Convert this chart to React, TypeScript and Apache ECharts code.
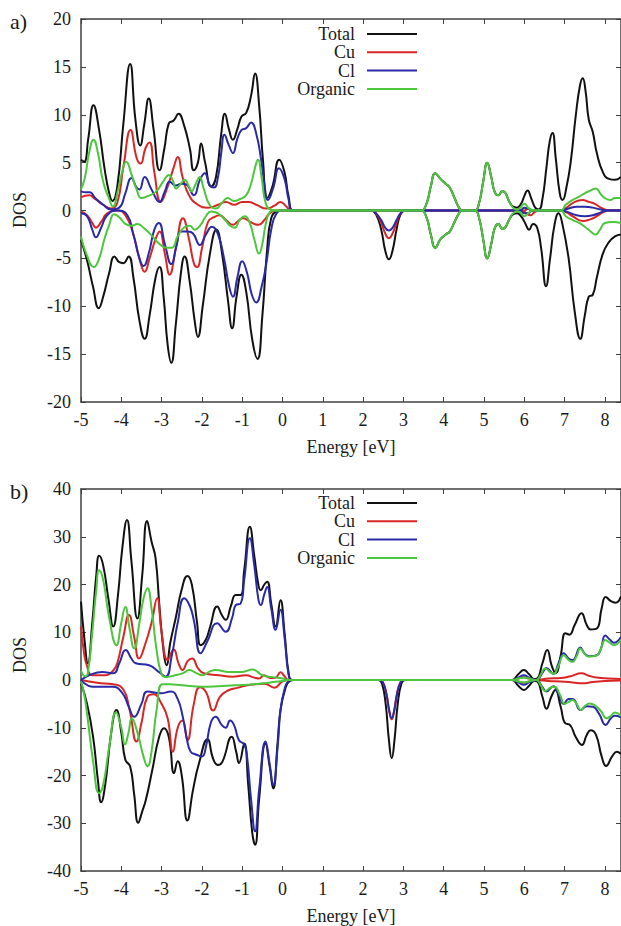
import React, { useEffect, useRef } from "react";
import * as echarts from "echarts";

// ---------- Panel a) ----------
const aTotalUp = [[-5,5.3],[-4.92,5.1],[-4.82,7.5],[-4.69,11.0],[-4.55,8.4],[-4.42,4.5],[-4.3,1.8],[-4.22,1.0],[-4.1,2.5],[-3.95,9],[-3.78,15.3],[-3.65,9.5],[-3.53,6.8],[-3.43,9],[-3.32,11.7],[-3.2,8.5],[-3.05,4.2],[-2.93,6.5],[-2.82,9.1],[-2.7,9.4],[-2.58,10.1],[-2.45,9],[-2.3,6.5],[-2.2,4.2],[-2.1,5],[-2.02,7.0],[-1.92,5],[-1.77,2.5],[-1.65,3.5],[-1.52,8],[-1.43,10.1],[-1.33,8.5],[-1.23,7.4],[-1.12,8.5],[-1.02,9.8],[-0.9,10.2],[-0.78,12],[-0.68,14.3],[-0.58,11],[-0.48,5],[-0.38,1.3],[-0.25,2.5],[-0.08,5.3],[0.05,4],[0.15,1.5],[0.28,0],[3.35,0],[3.45,0],[3.58,0.8],[3.68,2.5],[3.79,3.9],[3.92,3.3],[4.05,2.8],[4.15,2.4],[4.28,1.2],[4.38,0.3],[4.45,0],[4.7,0],[4.78,0],[4.88,0.8],[4.98,3],[5.08,5.0],[5.18,3.5],[5.27,1.9],[5.36,1.6],[5.45,2.0],[5.52,1.9],[5.62,1.0],[5.72,0.4],[5.82,0.3],[5.92,0.7],[6.0,1.5],[6.08,2.1],[6.17,1.3],[6.27,0.3],[6.36,0.1],[6.45,1.2],[6.55,4.5],[6.63,7.2],[6.7,8.1],[6.78,5.5],[6.88,1.8],[6.95,1.1],[7.05,2.5],[7.15,5],[7.28,10],[7.38,13],[7.45,13.8],[7.52,12.5],[7.6,9.5],[7.7,8.2],[7.8,6],[7.95,4],[8.1,3.3],[8.25,3.2],[8.4,3.5]];
const aTotalDn = [[-5,-3.1],[-4.85,-5.2],[-4.7,-8],[-4.56,-10.2],[-4.45,-9],[-4.3,-6.5],[-4.17,-4.8],[-4.05,-5.4],[-3.95,-5.5],[-3.82,-4.8],[-3.7,-7],[-3.55,-11.5],[-3.42,-13.4],[-3.3,-11],[-3.15,-7],[-3.05,-5.9],[-2.95,-9],[-2.85,-14],[-2.76,-15.9],[-2.65,-12],[-2.52,-6.5],[-2.43,-4.8],[-2.3,-7.5],[-2.18,-11.5],[-2.1,-13.2],[-1.98,-10],[-1.8,-4.5],[-1.64,-2.0],[-1.5,-4.5],[-1.35,-9.5],[-1.25,-12.3],[-1.14,-9],[-1.02,-6.7],[-0.9,-8.5],[-0.75,-13.5],[-0.62,-15.5],[-0.5,-11],[-0.38,-4],[-0.28,-0.8],[-0.15,-0.1],[0.0,0],[2.1,0],[2.2,0],[2.32,-0.4],[2.45,-2.0],[2.55,-4.2],[2.64,-5.1],[2.73,-4.2],[2.83,-2.0],[2.93,-0.4],[3.05,0],[3.35,0],[3.45,0],[3.58,-0.8],[3.68,-2.5],[3.79,-3.9],[3.92,-3.0],[4.05,-2.5],[4.15,-2.2],[4.28,-1.1],[4.38,-0.3],[4.45,0],[4.7,0],[4.78,0],[4.88,-0.8],[4.98,-3],[5.08,-5.0],[5.18,-3.5],[5.27,-1.8],[5.36,-1.4],[5.45,-1.9],[5.52,-1.8],[5.62,-1.0],[5.72,-0.4],[5.82,-0.3],[5.92,-0.6],[6.02,-1.3],[6.12,-2.0],[6.22,-1.4],[6.32,-1.8],[6.42,-4],[6.54,-7.9],[6.64,-5],[6.75,-1.5],[6.85,-0.3],[6.95,-1.5],[7.1,-5],[7.25,-10.5],[7.39,-13.4],[7.5,-11],[7.6,-9],[7.7,-8.8],[7.8,-7],[7.95,-4.5],[8.1,-3.3],[8.25,-2.7],[8.4,-2.5]];
const aCuUp = [[-5,1.4],[-4.8,1.6],[-4.65,1.2],[-4.45,0.6],[-4.25,0.2],[-4.1,0.8],[-3.95,4.5],[-3.77,8.4],[-3.62,5.5],[-3.52,4.9],[-3.4,6.5],[-3.3,7.1],[-3.18,4],[-3.02,0.9],[-2.85,2.5],[-2.7,4.5],[-2.6,5.6],[-2.48,3.5],[-2.32,1.6],[-2.1,0.6],[-1.85,0.3],[-1.6,0.6],[-1.4,0.9],[-1.2,0.6],[-1.0,0.9],[-0.85,0.9],[-0.65,0.6],[-0.4,0.2],[-0.2,0.5],[-0.05,0.9],[0.1,0.4],[0.22,0],[5.9,0],[6.0,0],[6.1,0.2],[6.2,0],[6.9,0],[7.05,0.3],[7.25,0.9],[7.45,1.1],[7.6,0.9],[7.75,0.7],[7.9,0.3],[8.05,0.05],[8.4,0]];
const aCuDn = [[-5,-0.1],[-4.85,-0.5],[-4.72,-1.3],[-4.63,-1.8],[-4.5,-1.2],[-4.35,-0.3],[-4.1,0],[-3.9,-0.5],[-3.7,-2.5],[-3.55,-5],[-3.42,-6.4],[-3.3,-5],[-3.15,-3],[-3.05,-2.2],[-2.92,-4.5],[-2.8,-6.7],[-2.65,-4],[-2.47,-0.8],[-2.32,-3],[-2.2,-5.5],[-2.12,-5.9],[-2.0,-4],[-1.85,-1.2],[-1.7,-0.7],[-1.56,-0.5],[-1.4,-1.0],[-1.23,-1.5],[-1.1,-1.1],[-0.98,-0.8],[-0.8,-1.2],[-0.6,-1.5],[-0.45,-1.0],[-0.32,-0.3],[-0.15,0],[2.1,0],[2.2,0],[2.32,-0.3],[2.45,-1.3],[2.55,-2.4],[2.64,-2.9],[2.73,-2.4],[2.83,-1.3],[2.93,-0.3],[3.05,0],[5.85,0],[5.95,0],[6.05,-0.3],[6.15,-0.5],[6.25,-0.2],[6.35,0],[6.9,0],[7.05,-0.2],[7.2,-0.6],[7.45,-1.1],[7.65,-0.9],[7.8,-0.6],[7.95,-0.2],[8.1,0],[8.4,0]];
const aClUp = [[-5,2.0],[-4.88,1.9],[-4.78,1.9],[-4.65,1.3],[-4.45,0.6],[-4.25,0.1],[-4.05,0.3],[-3.9,1.8],[-3.75,3.4],[-3.62,2.4],[-3.55,2.2],[-3.42,3.5],[-3.25,2.2],[-3.05,0.9],[-2.92,2],[-2.8,3.0],[-2.65,2.6],[-2.5,2.8],[-2.38,2.7],[-2.2,1.6],[-2.05,3.2],[-1.93,3.9],[-1.8,2.6],[-1.7,2.4],[-1.6,3.5],[-1.52,6],[-1.44,7.9],[-1.33,6.8],[-1.23,6.0],[-1.12,7.5],[-1.02,8.4],[-0.9,8.6],[-0.78,9.2],[-0.65,8],[-0.53,5.3],[-0.45,2.8],[-0.36,1.1],[-0.22,2.5],[-0.09,4.4],[0.05,3.3],[0.15,1.2],[0.25,0],[5.8,0],[5.9,0],[6.0,0.3],[6.1,0.2],[6.2,0],[6.9,0],[7.1,0.2],[7.3,0.4],[7.5,0.4],[7.7,0.3],[7.9,0.1],[8.05,0],[8.4,0]];
const aClDn = [[-5,-0.3],[-4.85,-0.6],[-4.72,-2],[-4.63,-2.8],[-4.5,-1.8],[-4.35,-0.5],[-4.1,0],[-3.85,-0.5],[-3.7,-2.5],[-3.55,-5],[-3.45,-5.8],[-3.32,-4.5],[-3.18,-2],[-3.07,-1.3],[-2.92,-3.5],[-2.76,-5.6],[-2.62,-3.5],[-2.52,-2.2],[-2.35,-2.2],[-2.22,-2.4],[-2.05,-3.6],[-1.9,-2.5],[-1.75,-1.7],[-1.6,-2.5],[-1.45,-5],[-1.32,-8],[-1.23,-9.0],[-1.12,-7],[-1.0,-5.3],[-0.88,-6.5],[-0.76,-8.8],[-0.65,-9.6],[-0.52,-8],[-0.4,-5.5],[-0.28,-2],[-0.16,-0.4],[0.0,0],[2.1,0],[2.2,0],[2.32,-0.3],[2.45,-1.0],[2.55,-1.8],[2.64,-2.1],[2.73,-1.8],[2.83,-1.0],[2.93,-0.3],[3.05,0],[5.8,0],[5.9,0],[6.0,-0.3],[6.1,-0.3],[6.2,0],[6.9,0],[7.1,-0.2],[7.3,-0.5],[7.5,-0.6],[7.7,-0.5],[7.9,-0.2],[8.05,0],[8.4,0]];
const aOrgUp = [[-5,2.2],[-4.9,3.5],[-4.8,6],[-4.69,7.4],[-4.58,6],[-4.45,3],[-4.3,1.2],[-4.21,0.4],[-4.08,2.2],[-3.95,4.5],[-3.88,5.1],[-3.75,3.8],[-3.62,2.2],[-3.5,1.3],[-3.35,1.5],[-3.13,2.0],[-2.95,3.1],[-2.82,3.7],[-2.72,3.1],[-2.64,2.3],[-2.52,2.8],[-2.43,3.2],[-2.32,2.5],[-2.26,2.0],[-2.15,2.8],[-2.06,3.5],[-1.95,2.2],[-1.81,0.6],[-1.65,0.2],[-1.5,0.8],[-1.36,1.3],[-1.2,1.0],[-1.05,1.2],[-0.9,1.6],[-0.78,2.8],[-0.68,4.5],[-0.61,5.3],[-0.52,3.5],[-0.42,0.8],[-0.3,0.1],[-0.15,0],[3.35,0],[3.45,0],[3.58,0.8],[3.68,2.5],[3.79,3.9],[3.92,3.3],[4.05,2.8],[4.15,2.4],[4.28,1.2],[4.38,0.3],[4.45,0],[4.7,0],[4.78,0],[4.88,0.8],[4.98,3],[5.08,5.0],[5.18,3.5],[5.27,1.9],[5.36,1.6],[5.45,2.0],[5.52,1.9],[5.62,1.0],[5.72,0.3],[5.82,0.1],[5.9,0.3],[6.0,0.7],[6.12,0.2],[6.3,0],[6.9,0],[7.03,0.6],[7.2,1.1],[7.36,1.45],[7.5,1.8],[7.65,2.1],[7.77,2.3],[7.9,1.7],[8.0,1.3],[8.14,1.1],[8.25,1.3],[8.4,1.3]];
const aOrgDn = [[-5,-2.7],[-4.87,-4.5],[-4.68,-5.9],[-4.55,-5],[-4.42,-3],[-4.3,-1.5],[-4.18,-0.4],[-4.05,-0.7],[-3.9,-1.4],[-3.75,-1.6],[-3.6,-1.4],[-3.45,-1.8],[-3.25,-2.6],[-3.05,-3.5],[-2.88,-3.9],[-2.75,-3.9],[-2.6,-2.7],[-2.45,-1.8],[-2.3,-1.6],[-2.18,-2.0],[-2.05,-1.6],[-1.9,-0.6],[-1.77,-0.1],[-1.6,-0.3],[-1.42,-1.0],[-1.3,-1.6],[-1.19,-1.8],[-1.05,-0.9],[-0.94,-0.6],[-0.82,-1.2],[-0.7,-3],[-0.58,-4.5],[-0.5,-3.5],[-0.42,-1.5],[-0.32,-0.2],[-0.2,0],[3.35,0],[3.45,0],[3.58,-0.8],[3.68,-2.5],[3.79,-3.9],[3.92,-3.0],[4.05,-2.5],[4.15,-2.2],[4.28,-1.1],[4.38,-0.3],[4.45,0],[4.7,0],[4.78,0],[4.88,-0.8],[4.98,-3],[5.08,-5.0],[5.18,-3.5],[5.27,-1.8],[5.36,-1.4],[5.45,-1.9],[5.52,-1.8],[5.62,-1.0],[5.72,-0.3],[5.82,-0.1],[5.9,-0.2],[6.0,-0.6],[6.1,-0.3],[6.2,0],[6.9,0],[7.03,-0.6],[7.2,-1.0],[7.36,-1.3],[7.5,-1.7],[7.65,-2.2],[7.77,-2.5],[7.88,-2.0],[8.0,-1.3],[8.2,-1.2],[8.4,-1.3]];

// ---------- Panel b) ----------
const bTotalUp = [[-5,16.4],[-4.92,9],[-4.83,3.5],[-4.72,12],[-4.62,22],[-4.55,26],[-4.45,24],[-4.32,17],[-4.2,11.2],[-4.08,18],[-3.97,28],[-3.86,33.5],[-3.75,25],[-3.6,12.9],[-3.48,22],[-3.36,33.3],[-3.25,29],[-3.15,25.5],[-3.05,15],[-2.95,6],[-2.88,3.1],[-2.78,8],[-2.65,13],[-2.5,19],[-2.36,21.8],[-2.25,20],[-2.12,12],[-2.03,7.3],[-1.9,8.5],[-1.8,11],[-1.62,15.4],[-1.5,13.5],[-1.41,12.6],[-1.28,15.5],[-1.16,17.8],[-1.04,17.8],[-0.95,23],[-0.81,32.1],[-0.7,26],[-0.6,20],[-0.54,18.8],[-0.45,20],[-0.38,20.6],[-0.28,16],[-0.17,11.2],[-0.05,16.7],[0.05,10],[0.16,1],[0.25,0],[5.6,0],[5.7,0],[5.85,1.2],[5.99,2.1],[6.12,1.2],[6.25,0.2],[6.32,0.3],[6.45,3.5],[6.57,6.3],[6.68,3],[6.78,1.4],[6.9,5],[7.02,9.8],[7.12,9.5],[7.25,11.5],[7.42,14.0],[7.55,11.5],[7.65,10.6],[7.8,10.8],[7.92,15],[8.02,17.4],[8.15,16.5],[8.27,16.2],[8.4,17.5]];
const bTotalDn = [[-5,-0.7],[-4.85,-5],[-4.7,-11.9],[-4.58,-21],[-4.5,-25.6],[-4.4,-22],[-4.25,-11],[-4.12,-6.3],[-4.0,-11],[-3.9,-16.7],[-3.78,-18.1],[-3.68,-24],[-3.58,-29.9],[-3.48,-27.5],[-3.39,-25.1],[-3.23,-18.8],[-3.06,-11.9],[-2.94,-10.1],[-2.82,-12],[-2.69,-19.5],[-2.6,-17],[-2.5,-20],[-2.36,-29.4],[-2.22,-23],[-2.07,-17.4],[-1.86,-12.4],[-1.72,-16.5],[-1.6,-17.8],[-1.49,-17.1],[-1.26,-11.9],[-1.15,-15],[-1.08,-17.4],[-0.95,-13.3],[-0.85,-22],[-0.75,-32],[-0.68,-34.5],[-0.58,-25],[-0.42,-13.3],[-0.32,-18],[-0.23,-22.7],[-0.12,-13],[-0.05,-6.3],[0.08,-1.5],[0.18,-0.2],[0.28,0],[2.3,0],[2.38,0],[2.47,-0.8],[2.56,-5],[2.64,-12.5],[2.71,-16.4],[2.78,-12.5],[2.86,-5],[2.95,-0.8],[3.04,0],[5.6,0],[5.7,0],[5.85,-1.2],[5.99,-2.1],[6.12,-1.2],[6.25,-0.2],[6.32,-0.3],[6.45,-3.5],[6.55,-6.0],[6.67,-3.5],[6.77,-2.1],[6.9,-5.5],[7.02,-9.1],[7.12,-9.3],[7.28,-12],[7.43,-13.6],[7.55,-11.5],[7.65,-10.5],[7.78,-11.5],[7.92,-16],[8.03,-18.0],[8.18,-16],[8.3,-15],[8.4,-15.5]];
const bCuUp = [[-5,11.2],[-4.93,6],[-4.86,3.2],[-4.72,1.0],[-4.39,1.0],[-4.2,2.0],[-4.1,3.5],[-3.95,9],[-3.81,13.6],[-3.68,9],[-3.56,4.5],[-3.4,7.7],[-3.25,12],[-3.11,17.1],[-3.0,10],[-2.85,4.2],[-2.7,6.4],[-2.58,3.5],[-2.48,2.1],[-2.35,4],[-2.24,4.5],[-2.1,2.5],[-1.95,1.4],[-1.58,1.0],[-1.25,0.7],[-0.91,1.0],[-0.7,0.5],[-0.58,0.3],[-0.46,1.0],[-0.3,0.4],[-0.17,0.5],[-0.05,1.6],[0.05,0.8],[0.15,0],[5.6,0],[5.7,0],[5.85,0.3],[5.99,0.6],[6.12,0.3],[6.3,0],[6.6,0.3],[6.9,0.4],[7.15,0.8],[7.42,1.4],[7.6,0.9],[7.8,0.5],[8.1,0.3],[8.4,0.2]];
const bCuDn = [[-5,0],[-4.6,-0.6],[-4.2,-0.9],[-3.95,-2.0],[-3.8,-6],[-3.62,-12.9],[-3.5,-9],[-3.35,-3.5],[-3.2,-3.0],[-3.0,-5],[-2.85,-8],[-2.72,-15.0],[-2.6,-10],[-2.48,-8.5],[-2.36,-12.6],[-2.2,-5],[-2.05,-1.5],[-1.9,-2.5],[-1.72,-6.4],[-1.55,-3.5],[-1.35,-2.2],[-1.1,-1.6],[-0.8,-1.0],[-0.45,-0.8],[-0.2,-1.6],[0,-0.3],[0.15,0],[2.3,0],[2.4,0],[2.49,-0.4],[2.58,-3],[2.65,-6.5],[2.71,-8.2],[2.77,-6.5],[2.84,-3],[2.93,-0.4],[3.02,0],[5.6,0],[5.7,0],[5.85,-0.3],[5.99,-0.6],[6.12,-0.3],[6.3,0],[6.6,-0.2],[6.9,-0.3],[7.2,-0.5],[7.45,-0.7],[7.7,-0.4],[8.0,-0.2],[8.4,-0.1]];
const bClUp = [[-5,0],[-4.8,1.0],[-4.47,1.7],[-4.2,1.4],[-4.05,3.5],[-3.89,6.3],[-3.75,4.5],[-3.64,3.5],[-3.31,3.1],[-3.07,1.7],[-2.9,0.7],[-2.75,5],[-2.6,12],[-2.44,17.1],[-2.3,15.5],[-2.2,12.5],[-2.03,5.6],[-1.87,8.0],[-1.62,11.9],[-1.41,10.1],[-1.25,13],[-1.16,15.7],[-1.04,16.0],[-0.95,21],[-0.81,29.7],[-0.7,24],[-0.6,17],[-0.54,15.7],[-0.45,18],[-0.38,19.5],[-0.28,15],[-0.17,10.5],[-0.05,14.7],[0.05,9],[0.16,0.7],[0.25,0],[5.6,0],[5.7,0],[5.85,0.5],[5.99,1.0],[6.12,0.5],[6.3,0],[6.45,1.5],[6.55,2.5],[6.72,1.3],[6.85,3.5],[6.98,5.6],[7.1,4.5],[7.2,4.2],[7.39,6.8],[7.5,5.5],[7.62,5.0],[7.8,5.2],[7.9,6.5],[8.01,9.3],[8.12,8.5],[8.22,7.8],[8.4,9.0]];
const bClDn = [[-5,0],[-4.72,-1.4],[-4.22,-1.4],[-3.97,-2.8],[-3.82,-5.5],[-3.68,-7.7],[-3.5,-5],[-3.35,-2.4],[-3.02,-2.8],[-2.77,-2.4],[-2.6,-4],[-2.48,-7.5],[-2.38,-12],[-2.28,-15.0],[-2.15,-15.6],[-2.0,-16.0],[-1.9,-14],[-1.78,-9],[-1.66,-7.7],[-1.5,-9.5],[-1.41,-10],[-1.3,-8.5],[-1.2,-9.5],[-1.08,-12.6],[-0.95,-13.5],[-0.88,-16],[-0.78,-25],[-0.68,-31.7],[-0.58,-23],[-0.42,-12.9],[-0.32,-17.5],[-0.23,-22.0],[-0.12,-14],[-0.05,-6.3],[0.05,-2],[0.14,-0.3],[0.25,0],[2.3,0],[2.4,0],[2.49,-0.5],[2.58,-3],[2.65,-6.5],[2.71,-8.0],[2.77,-6.5],[2.84,-3],[2.93,-0.5],[3.02,0],[5.6,0],[5.7,0],[5.85,-0.5],[5.99,-1.0],[6.12,-0.5],[6.3,0],[6.45,-1.5],[6.55,-2.4],[6.72,-1.3],[6.85,-3],[6.98,-5],[7.1,-4],[7.2,-4],[7.4,-6.3],[7.55,-5.5],[7.7,-5.6],[7.85,-7],[8.02,-9.4],[8.15,-8],[8.25,-7.5],[8.4,-7.8]];
const bOrgUp = [[-5,2.0],[-4.9,0.8],[-4.83,1.5],[-4.72,10],[-4.62,19],[-4.55,23.0],[-4.45,21],[-4.3,13],[-4.12,7.3],[-4.0,12],[-3.9,15.3],[-3.8,11],[-3.68,6.6],[-3.55,12],[-3.45,17],[-3.35,19.2],[-3.25,15],[-3.12,6],[-3.0,1.2],[-2.9,0.6],[-2.7,0.9],[-2.45,1.5],[-2.32,2.1],[-2.15,1.5],[-1.99,1.0],[-1.8,1.8],[-1.66,2.1],[-1.33,1.7],[-1.0,1.7],[-0.75,2.2],[-0.5,1.0],[-0.25,0.6],[0,0.3],[0.15,0],[5.6,0],[5.7,0],[5.85,0.3],[5.99,0.5],[6.12,0.3],[6.3,0],[6.4,1.0],[6.52,2.4],[6.65,1.6],[6.73,1.3],[6.85,3],[6.98,5.2],[7.1,4.2],[7.19,3.8],[7.3,5],[7.39,6.6],[7.5,5.5],[7.6,4.9],[7.72,5.0],[7.81,5.2],[7.9,6.5],[8.01,8.4],[8.12,7.8],[8.22,7.3],[8.4,8.5]];
const bOrgDn = [[-5,-0.3],[-4.92,-3],[-4.84,-7.7],[-4.7,-17],[-4.55,-23.7],[-4.45,-22],[-4.3,-14],[-4.13,-6.8],[-4.0,-10],[-3.91,-13.5],[-3.82,-11],[-3.74,-8.0],[-3.6,-11],[-3.45,-16],[-3.35,-18.1],[-3.25,-15],[-3.12,-6],[-2.98,-0.9],[-2.8,-0.9],[-2.5,-1.1],[-2.0,-1.4],[-1.6,-1.3],[-1.2,-1.1],[-0.7,-0.9],[-0.3,-0.5],[0,-0.2],[0.15,0],[5.6,0],[5.7,0],[5.85,-0.3],[5.99,-0.5],[6.12,-0.3],[6.3,0],[6.4,-1.0],[6.52,-2.3],[6.65,-1.6],[6.75,-1.4],[6.88,-3.0],[7.0,-5.0],[7.1,-4.6],[7.2,-4.2],[7.3,-5],[7.4,-6.3],[7.5,-5.5],[7.62,-4.9],[7.75,-5.3],[7.9,-6.5],[8.04,-8.0],[8.15,-7.5],[8.25,-6.8],[8.4,-7.5]];

const seriesNames = ["Total", "Cu", "Cl", "Organic"];
const seriesColors = ["#111111", "#d82626", "#2a2aa8", "#4cc63c"];
const panelLabels = ["a)", "b)"];
const xTitle = "Energy [eV]";
const yTitle = "DOS";

const FONT = "Liberation Serif, DejaVu Serif, serif";
const AXIS = "#404040";

export default function App() {
  const ref = useRef<HTMLDivElement>(null);
  useEffect(() => {
    if (!ref.current) return;
    const chart = echarts.init(ref.current, null, { renderer: "svg" });

    const grids = [
      { left: 81, top: 19, width: 541, height: 383 },
      { left: 81, top: 489, width: 541, height: 382 },
    ];
    const yRanges = [
      { min: -20, max: 20, interval: 5 },
      { min: -40, max: 40, interval: 10 },
    ];
    const labelStyle = { fontFamily: FONT, fontSize: 18, color: "#1a1a1a" };
    const xAxes: any[] = [];
    const yAxes: any[] = [];
    [0, 1].forEach((g) => {
      xAxes.push({
        type: "value", gridIndex: g, min: -5, max: 8.4, interval: 1, position: "bottom",
        axisLine: { show: true, onZero: false, lineStyle: { color: AXIS, width: 1.5 } },
        axisTick: { show: true, inside: true, length: 5, lineStyle: { color: AXIS, width: 1 } },
        axisLabel: { ...labelStyle, margin: 9, showMaxLabel: false },
        splitLine: { show: false },
        name: xTitle, nameLocation: "middle", nameGap: 36,
        nameTextStyle: { fontFamily: FONT, fontSize: 18, color: "#1a1a1a" },
      });
      xAxes.push({
        type: "value", gridIndex: g, min: -5, max: 8.4, interval: 1, position: "top",
        axisLine: { show: true, onZero: false, lineStyle: { color: AXIS, width: 1.5 } },
        axisTick: { show: true, inside: true, length: 5, lineStyle: { color: AXIS, width: 1 } },
        axisLabel: { show: false }, splitLine: { show: false },
      });
      yAxes.push({
        type: "value", gridIndex: g, ...yRanges[g], position: "left",
        axisLine: { show: true, onZero: false, lineStyle: { color: AXIS, width: 1.5 } },
        axisTick: { show: true, inside: true, length: 5, lineStyle: { color: AXIS, width: 1 } },
        axisLabel: { ...labelStyle, margin: 10 },
        splitLine: { show: false },
      });
      yAxes.push({
        type: "value", gridIndex: g, ...yRanges[g], position: "right",
        axisLine: { show: true, onZero: false, lineStyle: { color: AXIS, width: 1.5 } },
        axisTick: { show: true, inside: true, length: 5, lineStyle: { color: AXIS, width: 1 } },
        axisLabel: { show: false }, splitLine: { show: false },
      });
    });

    const panelData = [
      [[aTotalUp, aTotalDn], [aCuUp, aCuDn], [aClUp, aClDn], [aOrgUp, aOrgDn]],
      [[bTotalUp, bTotalDn], [bCuUp, bCuDn], [bClUp, bClDn], [bOrgUp, bOrgDn]],
    ];
    const series: any[] = [];
    panelData.forEach((panel, g) => {
      panel.forEach((pair, k) => {
        pair.forEach((d, s) => {
          series.push({
            type: "line",
            name: seriesNames[k] + (s === 0 ? " up" : " down") + (g === 0 ? " (a)" : " (b)"),
            data: d,
            xAxisIndex: g * 2,
            yAxisIndex: g * 2,
            showSymbol: false,
            symbol: "none",
            smooth: 0.5,
            silent: true,
            z: 2 + k,
            lineStyle: { color: seriesColors[k], width: 2 },
            itemStyle: { color: seriesColors[k] },
          });
        });
      });
    });

    const graphic: any[] = [];
    const legendTops = [34, 503];
    const dosY = [210, 655];
    const labelY = [21, 491];
    [0, 1].forEach((g) => {
      seriesNames.forEach((n, k) => {
        const y = legendTops[g] + k * 18.3;
        graphic.push({
          type: "text", x: 355, y,
          style: { text: n, fontFamily: FONT, fontSize: 18, fill: "#1a1a1a", align: "right", verticalAlign: "middle" },
        });
        graphic.push({
          type: "line", shape: { x1: 367, y1: y, x2: 417, y2: y },
          style: { stroke: seriesColors[k], lineWidth: 2 },
        });
      });
      graphic.push({
        type: "text", x: 20, y: dosY[g], rotation: Math.PI / 2,
        style: { text: yTitle, fontFamily: FONT, fontSize: 18, fill: "#1a1a1a", align: "center", verticalAlign: "middle" },
      });
      graphic.push({
        type: "text", x: 10, y: labelY[g],
        style: { text: panelLabels[g], fontFamily: FONT, fontSize: 22, fill: "#1a1a1a", align: "left", verticalAlign: "middle" },
      });
    });

    chart.setOption({
      animation: false,
      backgroundColor: "#ffffff",
      grid: grids,
      xAxis: xAxes,
      yAxis: yAxes,
      series,
      graphic,
    });
    return () => chart.dispose();
  }, []);
  return (
    <div
      ref={ref}
      style={{ position: "absolute", left: 0, top: 0, width: 621, height: 926 }}
    />
  );
}
